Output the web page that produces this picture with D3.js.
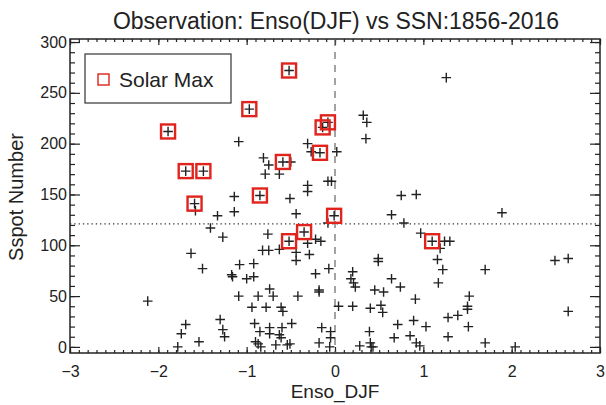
<!DOCTYPE html>
<html>
<head>
<meta charset="utf-8">
<script src="https://cdn.jsdelivr.net/npm/d3@7"></script>
<style>
  body { margin: 0; background: #fff; }
  text { font-family: "Liberation Sans", Arial, sans-serif; fill: #222; }
</style>
</head>
<body>
<div id="graph1"></div>
<script>
// chart size
const WIDTH = 606, HEIGHT = 405;
const margin = {top: 39, right: 6, bottom: 52, left: 70};

// all years: Enso DJF index vs sunspot number
const ensoAll = [
  -1.09, -0.81, -0.75, -0.79, -0.63, -0.50, -0.31, -0.27, 0.02, -0.31, -0.31, -0.08, -0.04, -1.14, -0.51,
  1.26, 0.32, 0.36, 0.35, 0.75, 0.92,
  -1.58, -1.14, -1.33, -0.44, -1.41, -1.27, -0.76, -0.82, -0.75, -0.63, -0.44, -0.44, -0.31, -0.29, -0.22,
  -0.16, -0.08, -1.63, -1.50, -1.08, -0.92, -1.17, -1.16, -1.00, -0.92, -0.22, -0.07, -2.12, -1.09, -0.87,
  -0.74, -0.70, -0.42, -0.18, -0.18, -0.94, -0.78, -0.61, -0.59, 0.04, -1.69, -1.74, -1.30, -1.27, -1.25,
  -1.54, -1.78, -0.91, -0.85, -0.74, -0.74, -0.63, -0.60, -0.61, -0.49, -0.51, -0.90, -0.87, -0.15, -0.05,
  -0.05, -0.18, -0.06, -0.67, -0.54, -0.84,
  0.64, 0.78, 1.89, 0.97, 1.24, 1.30, 1.19, 1.16, 1.22, 1.17, 1.70, 2.49, 2.64, 2.64, 0.49, 0.49, 0.20,
  0.18, 0.21, 0.23, 0.45, 0.55, 0.64, 0.74, 0.91, 1.52, 1.50, 1.50, 1.39, 1.28, 1.51, 1.28, 1.70, 0.20,
  0.40, 0.52, 0.54, 0.71, 0.89, 1.03, 0.39, 0.40, 0.67, 0.85, 0.92, 0.96, 0.28, 0.43, 2.04, 0.41
];
const sspotAll = [
  202, 186, 179, 170, 170, 182, 200, 192, 192, 159, 153, 163, 163, 148, 146,
  265, 228, 221, 205, 149, 150,
  134, 133, 129, 131, 117, 108, 111, 95, 95, 96, 93, 85, 102, 91, 106,
  104, 122, 92, 77, 81, 82, 71, 69, 67, 69, 72, 77, 45, 50, 50,
  57, 50, 50, 56, 54, 39, 39, 39, 35, 40, 22, 13, 27, 17, 10,
  5, 0, 23, 15, 19, 13, 12, 19, 9, 23, 3, 5, 3, 19, 15,
  9, 4, 0, 2, 2, 0,
  130, 122, 132, 112, 104, 104, 97, 86, 76, 63, 76, 85, 87, 35, 87, 84, 74,
  67, 63, 59, 56, 54, 67, 59, 47, 50, 40, 37, 31, 29, 20, 10, 4, 40,
  38, 41, 34, 22, 26, 20, 15, 4, 9, 11, 4, 1, 1, 0, 0, 0
];

// solar maximum years
const ensoMax  = [-0.52, -0.97, -1.89, -1.69, -1.49, -0.59, -0.14, -0.08, -0.17, -0.85, -1.59, -0.01, -0.35, -0.52, 1.10];
const sspotMax = [272, 234, 212, 173, 173, 182, 216, 221, 191, 149, 141, 129, 113, 104, 104];

const xTicks = [-3, -2, -1, 0, 1, 2, 3];
const yTicks = [0, 50, 100, 150, 200, 250, 300];
const meanSspot = 121;

let w = WIDTH - margin.left - margin.right;
let h = HEIGHT - margin.top - margin.bottom;

let svg = d3.select("#graph1")
    .append("svg")
    .attr("width", WIDTH)
    .attr("height", HEIGHT)
    .append("g")
    .attr("transform", `translate(${margin.left}, ${margin.top})`);

let x = d3.scaleLinear().domain([-3, 3]).range([0, w]);
let y = d3.scaleLinear().domain([-6, 303]).range([h, 0]);

// IDL style box axes, ticks pointing inwards on all 4 sides
const xMinor = d3.range(-30, 31).map(d => d / 10);
const yMinor = d3.range(0, 301, 10);

function tickStyle(g) {
  g.select(".domain").remove();
  g.selectAll("line").attr("stroke", "#222").attr("stroke-width", 1.2);
}

svg.append("g").attr("transform", `translate(0, ${h})`)
  .call(d3.axisBottom(x).tickValues(xMinor).tickSize(-3).tickFormat(""))
  .call(tickStyle);
svg.append("g").attr("transform", `translate(0, ${h})`)
  .call(d3.axisBottom(x).tickValues(xTicks).tickSize(-6).tickPadding(13).tickFormat(d3.format("d")))
  .call(tickStyle)
  .selectAll("text").style("font-size", "16px").attr("dy", "0.71em");
svg.append("g")
  .call(d3.axisTop(x).tickValues(xMinor).tickSize(-3).tickFormat(""))
  .call(tickStyle);
svg.append("g")
  .call(d3.axisTop(x).tickValues(xTicks).tickSize(-6).tickFormat(""))
  .call(tickStyle);

svg.append("g")
  .call(d3.axisLeft(y).tickValues(yMinor).tickSize(-5).tickFormat(""))
  .call(tickStyle);
svg.append("g")
  .call(d3.axisLeft(y).tickValues(yTicks).tickSize(-10).tickPadding(4).tickFormat(d3.format("d")))
  .call(tickStyle)
  .selectAll("text").attr("x", -3).style("font-size", "16px");
svg.append("g").attr("transform", `translate(${w}, 0)`)
  .call(d3.axisRight(y).tickValues(yMinor).tickSize(-5).tickFormat(""))
  .call(tickStyle);
svg.append("g").attr("transform", `translate(${w}, 0)`)
  .call(d3.axisRight(y).tickValues(yTicks).tickSize(-10).tickFormat(""))
  .call(tickStyle);

// frame
svg.append("rect")
  .attr("width", w).attr("height", h)
  .attr("fill", "none").attr("stroke", "#222").attr("stroke-width", 1.5);

// zero line and mean sunspot line
svg.append("line")
  .attr("x1", x(0)).attr("x2", x(0)).attr("y1", 0).attr("y2", h)
  .attr("stroke", "#666").attr("stroke-width", 1.2).attr("stroke-dasharray", "7,6");
svg.append("line")
  .attr("x1", 0).attr("x2", w).attr("y1", y(meanSspot)).attr("y2", y(meanSspot))
  .attr("stroke", "#333").attr("stroke-width", 1.3).attr("stroke-dasharray", "1.3,3");

// plus markers
const allData = ensoAll.map((e, i) => ({enso: e, ssn: sspotAll[i]}))
  .concat(ensoMax.map((e, i) => ({enso: e, ssn: sspotMax[i]})));
const maxData = ensoMax.map((e, i) => ({enso: e, ssn: sspotMax[i]}));

svg.selectAll(".plus")
  .data(allData)
  .enter()
  .append("path")
  .attr("class", "plus")
  .attr("transform", d => `translate(${x(d.enso)}, ${y(d.ssn)})`)
  .attr("d", "M-4.8,0H4.8M0,-4.8V4.8")
  .attr("stroke", "#222").attr("stroke-width", 1.4).attr("fill", "none");

// red squares for solar max
svg.selectAll(".maxsq")
  .data(maxData)
  .enter()
  .append("rect")
  .attr("class", "maxsq")
  .attr("x", d => x(d.enso) - 7)
  .attr("y", d => y(d.ssn) - 7)
  .attr("width", 14).attr("height", 14)
  .attr("fill", "none").attr("stroke", "#e0231c").attr("stroke-width", 2.4);

// legend
let legend = svg.append("g").attr("transform", "translate(15, 15)");
legend.append("rect")
  .attr("width", 146).attr("height", 49)
  .attr("fill", "#fff").attr("stroke", "#333").attr("stroke-width", 1.2);
legend.append("rect")
  .attr("x", 13).attr("y", 20).attr("width", 11).attr("height", 11)
  .attr("fill", "none").attr("stroke", "#e0231c").attr("stroke-width", 1.4);
legend.append("text")
  .attr("x", 34).attr("y", 33)
  .style("font-size", "21px")
  .text("Solar Max");

// titles
svg.append("text")
  .attr("x", w / 2 + 1).attr("y", -10)
  .attr("text-anchor", "middle")
  .style("font-size", "23px")
  .text("Observation: Enso(DJF) vs SSN:1856-2016");

svg.append("text")
  .attr("x", w / 2).attr("y", h + 45)
  .attr("text-anchor", "middle")
  .style("font-size", "19px")
  .text("Enso_DJF");

svg.append("text")
  .attr("transform", `translate(${-47}, ${h / 2 + 1}) rotate(-90)`)
  .attr("text-anchor", "middle")
  .style("font-size", "20px")
  .text("Sspot Number");
</script>
</body>
</html>
